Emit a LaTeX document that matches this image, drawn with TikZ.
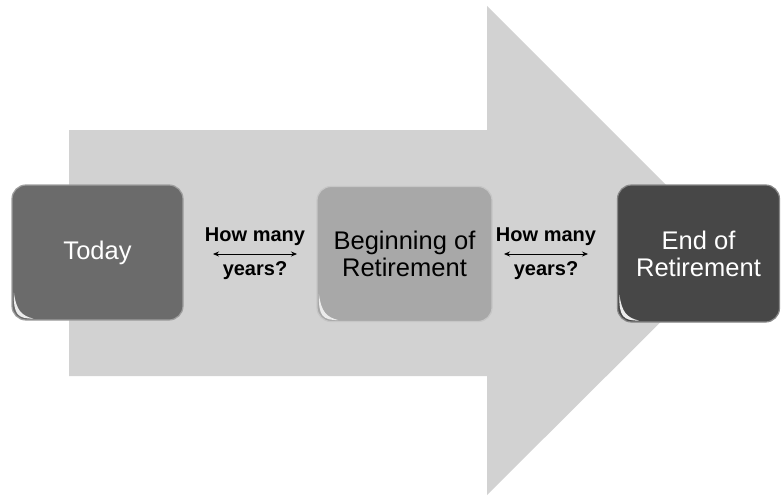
\documentclass[tikz,border=0pt]{standalone}
\usepackage{fontspec}
\setmainfont{Liberation Sans}
\usetikzlibrary{arrows.meta,calc}
\definecolor{arrowgray}{HTML}{D2D2D2}
\definecolor{boxa}{HTML}{6B6B6B}
\definecolor{boxb}{HTML}{A8A8A8}
\definecolor{boxc}{HTML}{474747}
\tikzset{
  box/.style={rounded corners=14pt, inner sep=0pt, align=center,
    font=\fontsize{25.5}{27}\selectfont, draw=#1!65!white, line width=1.2pt, fill=#1},
  gap/.style={font=\bfseries\fontsize{20}{22}\selectfont, inner sep=0pt},
  span/.style={{Stealth[length=6pt,width=5pt]}-{Stealth[length=6pt,width=5pt]}, line width=0.8pt, black},
  gloss/.style={fill=white!92!black, draw=none}
}
\newcommand{\glossy}[1]{%
  \fill[gloss] ($(#1.south west)+(2.5,-28)$) .. controls ($(#1.south west)+(2,-6)$) and ($(#1.south west)+(6,-2)$) .. ($(#1.south west)+(22,-2)$)
     .. controls ($(#1.south west)+(10,-5)$) and ($(#1.south west)+(5,-10)$) .. cycle;
}
\begin{document}
\begin{tikzpicture}[x=1pt,y=-1pt]
\useasboundingbox (0,0) rectangle (781,495);
\fill[arrowgray] (69,130) -- (487,130) -- (487,6) -- (732,251) -- (487,495) -- (487,376) -- (69,376) -- cycle;

\node[box=boxa, minimum width=171pt, minimum height=135pt, text=white] (today) at (97.5,252.5) {Today};
\node[box=boxb, minimum width=175pt, minimum height=135pt, text=black] (begin) at (404.5,254) {Beginning of\\Retirement};
\node[box=boxc, minimum width=162pt, minimum height=137pt, text=white] (end) at (698.5,253.5) {End of\\Retirement};
\glossy{today}
\glossy{begin}
\glossy{end}

\node[gap] (q1) at (255,237) {How many};
\node[gap] (y1) at (255,271) {years?};
\coordinate (a1l) at (213,254);
\coordinate (a1r) at (297,254);
\draw[span] (a1l) -- (a1r);

\node[gap] (q2) at (546,237) {How many};
\node[gap] (y2) at (546,271) {years?};
\coordinate (a2l) at (504,254);
\coordinate (a2r) at (588,254);
\draw[span] (a2l) -- (a2r);
\end{tikzpicture}
\end{document}
